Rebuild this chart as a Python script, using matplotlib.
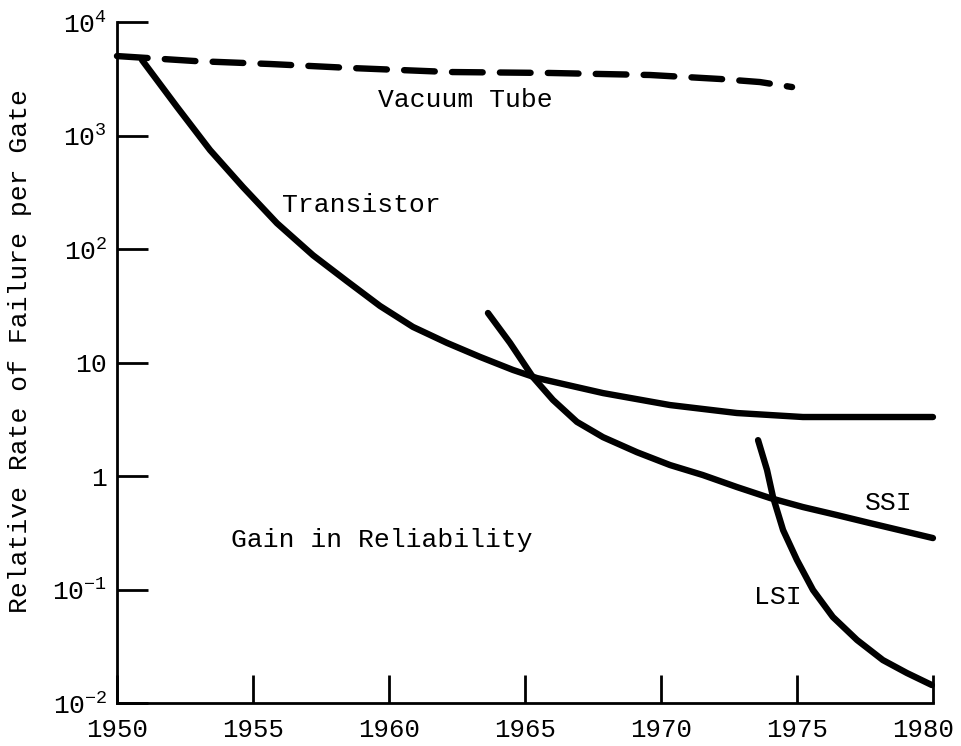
import matplotlib
matplotlib.use("Agg")
import matplotlib.pyplot as plt
from matplotlib.ticker import FixedLocator, NullLocator
from matplotlib.transforms import ScaledTranslation

plt.rcParams["font.family"] = ["Liberation Mono", "DejaVu Sans Mono"]
plt.rcParams["mathtext.fontset"] = "custom"
plt.rcParams["mathtext.rm"] = "Liberation Mono"

# curves (year, relative failure rate)
VACUUM_YEARS = [1950.0, 1952.87, 1955.63, 1958.57, 1962.24, 1965.92,
                1969.60, 1972.17, 1973.64, 1974.82]
VACUUM_RATE = [5012, 4529, 4266, 3936, 3625, 3556, 3413, 3148, 2958, 2673]

TRANS_YEARS = [1950.92, 1952.21, 1953.42, 1954.63, 1955.88, 1957.21,
               1958.46, 1959.67, 1960.88, 1962.13, 1963.35, 1964.56,
               1965.44, 1967.87, 1970.33, 1972.79, 1975.22, 1977.68, 1980.0]
TRANS_RATE = [4624, 1782, 745, 352, 169, 88, 52, 31.5, 20.6, 14.9, 11.2,
              8.6, 7.3, 5.38, 4.22, 3.59, 3.31, 3.31, 3.31]

SSI_YEARS = [1963.64, 1964.45, 1965.29, 1966.03, 1966.91, 1967.87, 1969.12,
             1970.33, 1971.54, 1972.79, 1974.01, 1975.22, 1976.47, 1977.68,
             1980.0]
SSI_RATE = [27.3, 14.9, 7.45, 4.68, 3.0, 2.2, 1.62, 1.25, 1.02, 0.80,
            0.64, 0.533, 0.453, 0.385, 0.284]

LSI_YEARS = [1973.57, 1973.90, 1974.12, 1974.49, 1975.00, 1975.59, 1976.32,
             1977.21, 1978.16, 1979.04, 1979.96]
LSI_RATE = [2.07, 1.13, 0.653, 0.334, 0.182, 0.099, 0.0573, 0.0359, 0.0239,
            0.0184, 0.0144]

X_TICKS = [1950, 1955, 1960, 1965, 1970, 1975, 1980]
Y_TICKS = [1e-2, 1e-1, 1, 10, 1e2, 1e3, 1e4]
Y_TICK_LABELS = [r"$\mathregular{10^{-2}}$", r"$\mathregular{10^{-1}}$", "1", "10",
                 r"$\mathregular{10^{2}}$", r"$\mathregular{10^{3}}$",
                 r"$\mathregular{10^{4}}$"]

# (text, year, rate)
ANNOTATIONS = [
    ("Vacuum Tube", 1962.8, 2050),
    ("Transistor", 1958.97, 244),
    ("SSI", 1978.38, 0.578),
    ("LSI", 1974.3, 0.0859),
    ("Gain in Reliability", 1959.74, 0.273),
]

LW = 4.6
FS = 19

fig = plt.figure(figsize=(9.62, 7.46), dpi=100)
ax = fig.add_axes([0.1216, 0.0576, 0.8482, 0.9129])

ax.plot(VACUUM_YEARS, VACUUM_RATE, color="black", lw=LW,
        dashes=(4.8, 2.7), dash_capstyle="round", clip_on=False)
for xs, ys in [(TRANS_YEARS, TRANS_RATE), (SSI_YEARS, SSI_RATE),
               (LSI_YEARS, LSI_RATE)]:
    ax.plot(xs, ys, color="black", lw=LW, solid_capstyle="round",
            solid_joinstyle="round", clip_on=False)

ax.set_yscale("log")
ax.set_xlim(1950, 1980)
ax.set_ylim(1e-2, 1e4)

ax.xaxis.set_major_locator(FixedLocator(X_TICKS))
ax.yaxis.set_major_locator(FixedLocator(Y_TICKS))
ax.yaxis.set_minor_locator(NullLocator())
ax.set_yticklabels(Y_TICK_LABELS)

for side in ["top", "right"]:
    ax.spines[side].set_visible(False)
for side in ["left", "bottom"]:
    ax.spines[side].set_linewidth(2)

ax.tick_params(axis="y", direction="in", length=22, width=2, pad=7,
               labelsize=FS)
ax.tick_params(axis="x", direction="in", length=20, width=2, pad=11,
               labelsize=18.5)

# last year label sits a little left of its tick, as in the original
last = ax.xaxis.get_major_ticks()[-1].label1
last.set_transform(last.get_transform()
                   + ScaledTranslation(-0.1, 0, fig.dpi_scale_trans))

for text, x, y in ANNOTATIONS:
    ax.text(x, y, text, fontsize=FS, ha="center", va="center")

fig.text(20 / 962, 1 - 351 / 746, "Relative Rate of Failure per Gate",
         rotation=90, fontsize=FS, ha="center", va="center")

fig.savefig("out.png", dpi=100)
